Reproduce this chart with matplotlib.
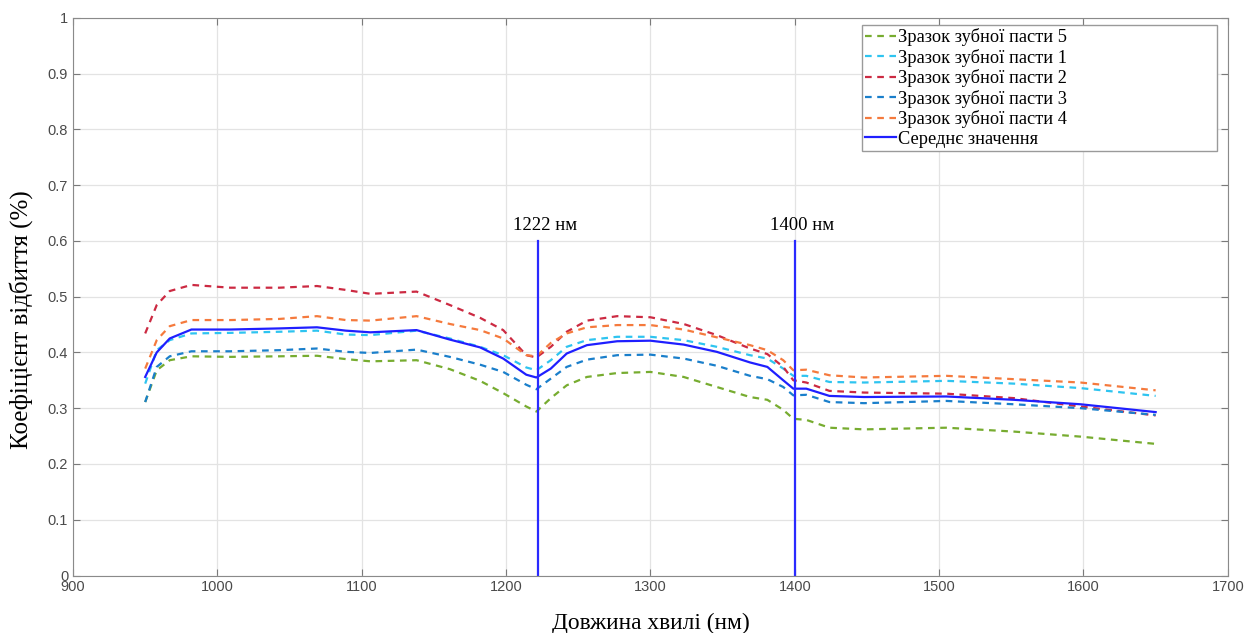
import matplotlib
matplotlib.use("Agg")
import matplotlib.pyplot as plt

# wavelength grid (nm)
wl = [950, 958, 967, 982, 1009, 1043, 1069, 1089, 1106, 1138, 1161, 1182, 1198, 1214, 1221,
      1231, 1242, 1256, 1277, 1300, 1323, 1346, 1369, 1381, 1392, 1399, 1408, 1424, 1448,
      1505, 1552, 1598, 1650]

s5 = [0.311, 0.368, 0.386, 0.393, 0.392, 0.393, 0.394, 0.388, 0.384, 0.386, 0.370, 0.349, 0.327,
      0.303, 0.294, 0.318, 0.341, 0.356, 0.363, 0.365, 0.356, 0.338, 0.320, 0.315, 0.297, 0.281,
      0.279, 0.265, 0.262, 0.265, 0.258, 0.249, 0.236]
s1 = [0.344, 0.404, 0.422, 0.434, 0.435, 0.437, 0.439, 0.432, 0.431, 0.439, 0.425, 0.410, 0.395,
      0.373, 0.368, 0.386, 0.410, 0.422, 0.428, 0.428, 0.422, 0.410, 0.395, 0.389, 0.371, 0.358,
      0.358, 0.347, 0.346, 0.349, 0.344, 0.336, 0.322]
s2 = [0.434, 0.485, 0.510, 0.521, 0.516, 0.516, 0.519, 0.512, 0.505, 0.509, 0.485, 0.462, 0.440,
      0.395, 0.391, 0.410, 0.437, 0.457, 0.465, 0.463, 0.451, 0.431, 0.407, 0.397, 0.374, 0.350,
      0.346, 0.331, 0.328, 0.326, 0.318, 0.303, 0.287]
s3 = [0.311, 0.374, 0.393, 0.402, 0.402, 0.404, 0.407, 0.401, 0.399, 0.405, 0.392, 0.378, 0.365,
      0.342, 0.334, 0.353, 0.374, 0.387, 0.395, 0.396, 0.389, 0.376, 0.358, 0.352, 0.338, 0.323,
      0.324, 0.311, 0.309, 0.313, 0.307, 0.300, 0.288]
s4 = [0.371, 0.422, 0.447, 0.458, 0.458, 0.460, 0.465, 0.458, 0.457, 0.465, 0.451, 0.440, 0.425,
      0.395, 0.393, 0.417, 0.434, 0.445, 0.449, 0.449, 0.441, 0.427, 0.413, 0.404, 0.386, 0.368,
      0.369, 0.359, 0.355, 0.358, 0.352, 0.346, 0.332]
mean = [0.356, 0.400, 0.425, 0.441, 0.441, 0.443, 0.445, 0.439, 0.436, 0.440, 0.423, 0.409, 0.389,
        0.360, 0.355, 0.371, 0.398, 0.413, 0.420, 0.421, 0.414, 0.401, 0.382, 0.374, 0.350, 0.335,
        0.335, 0.322, 0.320, 0.321, 0.315, 0.307, 0.293]

labels = ["Зразок зубної пасти 5", "Зразок зубної пасти 1", "Зразок зубної пасти 2",
          "Зразок зубної пасти 3", "Зразок зубної пасти 4"]
colors = ["#77AC30", "#2EC4F0", "#CC2A42", "#1A7FCB", "#F57A3D"]
marks = [1222, 1400]
mark_text = ["1222 нм", "1400 нм"]

serif = "Liberation Serif"

fig = plt.figure(figsize=(12.44, 6.33), dpi=100)
ax = fig.add_axes([0.0587, 0.0908, 0.9283, 0.8812])

for s, lab, c in zip([s5, s1, s2, s3, s4], labels, colors):
    ax.plot(wl, s, ls=(0, (3, 2.5)), color=c, lw=1.6, label=lab)
ax.plot(wl, mean, color="#1F1FFF", lw=1.6, label="Середнє значення")

for m, t in zip(marks, mark_text):
    ax.plot([m, m], [0, 0.6], color="#2A2AFF", lw=1.6)
    ax.text(m + 5, 0.612, t, ha="center", va="bottom", fontsize=13.5, family=serif)

ax.set_xlim(900, 1700)
ax.set_ylim(0, 1)
ax.set_xticks(range(900, 1701, 100))
ax.set_yticks([i / 10 for i in range(11)])
ax.set_yticklabels(["0"] + ["0.%d" % i for i in range(1, 10)] + ["1"])
ax.grid(True, color="#E3E3E3", lw=0.9)
ax.set_axisbelow(True)
ax.tick_params(direction="in", length=5, top=True, right=True, labelsize=10.5,
               colors="#7A7A7A", labelcolor="#4A4A4A", labelfontfamily="Liberation Sans")
for sp in ax.spines.values():
    sp.set_color("#8A8A8A")

ax.set_xlabel("Довжина хвилі (нм)", fontsize=16.8, family=serif, labelpad=13)
ax.set_ylabel("Коефіцієнт відбиття (%)", fontsize=18, family=serif)
ax.yaxis.set_label_coords(-0.035, 0.458)

leg = ax.legend(loc="upper left", bbox_to_anchor=(0.683, 0.9866, 0.308, 0.0),
                mode="expand", prop={"family": serif, "size": 13.2},
                fancybox=False, handlelength=1.7, handletextpad=0.1, borderpad=0.15,
                borderaxespad=0, labelspacing=0.14, framealpha=1)
leg.get_frame().set_edgecolor("#9A9A9A")

fig.savefig("out.png", dpi=100)
